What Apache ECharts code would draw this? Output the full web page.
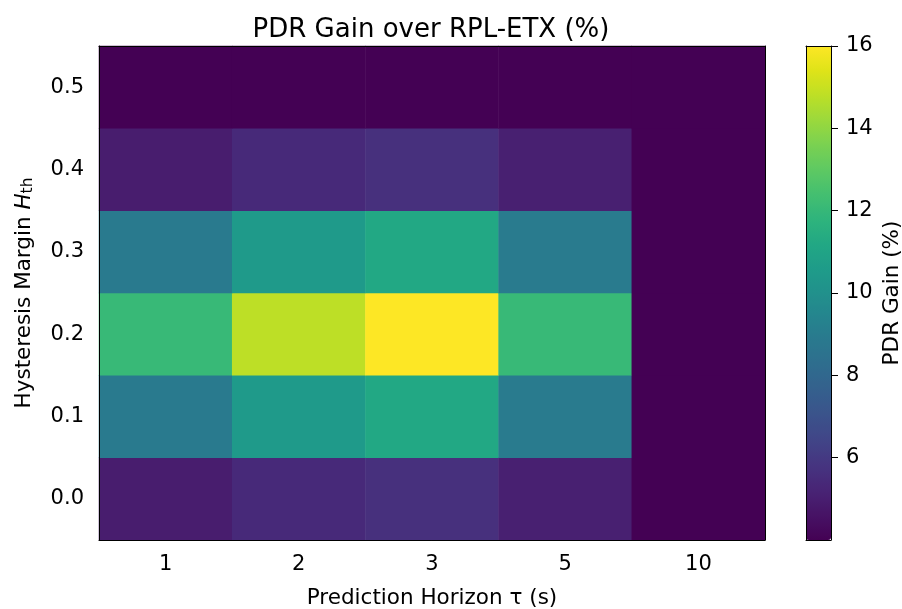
<!DOCTYPE html>
<html>
<head>
<meta charset="utf-8">
<script src="https://cdn.jsdelivr.net/npm/echarts@6/dist/echarts.min.js"></script>
<style>
html,body{margin:0;padding:0;background:#fff;}
#chart{width:902px;height:609px;}
</style>
</head>
<body>
<div id="chart"></div>
<script>
// ---- data ----
const horizons = ['1', '2', '3', '5', '10'];
const margins = ['0.0', '0.1', '0.2', '0.3', '0.4', '0.5'];
// PDR gain (%) rows by hysteresis margin (bottom to top), columns by horizon
const gain_H00 = [4.95, 5.4, 5.65, 5.05, 4.0];
const gain_H01 = [8.9, 10.5, 11.2, 8.95, 4.0];
const gain_H02 = [12.05, 14.8, 16.0, 12.05, 4.0];
const gain_H03 = [8.9, 10.5, 11.2, 8.95, 4.0];
const gain_H04 = [4.95, 5.4, 5.65, 5.05, 4.0];
const gain_H05 = [4.0, 4.0, 4.0, 4.0, 4.0];
const colorbarTicks = [6, 8, 10, 12, 14, 16];
const colorMin = 4.0, colorMax = 16.0;

const rows = [gain_H00, gain_H01, gain_H02, gain_H03, gain_H04, gain_H05];
const heatData = [];
rows.forEach((row, yi) => row.forEach((v, xi) => heatData.push([xi, yi, v])));

const viridis = ['#440154','#471365','#482475','#463480','#414487','#3b528b','#355f8d','#2f6c8e','#2a788e','#25848e','#21918c','#1e9c89','#22a884','#2fb47c','#44bf70','#5ec962','#7ad151','#9bd93c','#bddf26','#dfe318','#fde725'];

const FONT = 'DejaVu Sans';
const tickFs = 21;
const labelFs = 21.5;
const titleFs = 26;
const lineStyle = {color: '#000', width: 1};

const chart = echarts.init(document.getElementById('chart'));
chart.setOption({
  animation: false,
  backgroundColor: '#fff',
  textStyle: {fontFamily: FONT},
  title: {
    text: 'PDR Gain over RPL-ETX (%)',
    left: 426, top: 12, textAlign: 'center',
    textStyle: {fontFamily: FONT, fontSize: titleFs, fontWeight: 'normal', color: '#000'}
  },
  grid: [
    {left: 99, top: 46, width: 666, height: 494, containLabel: false, outerBoundsMode: 'none'},
    {left: 806, top: 46, width: 25, height: 494, containLabel: false, outerBoundsMode: 'none'}
  ],
  xAxis: [
    {type: 'category', gridIndex: 0, data: horizons, position: 'bottom', z: 10,
     axisLine: {lineStyle}, axisTick: {alignWithLabel: true, length: 7, lineStyle},
     axisLabel: {fontFamily: FONT, fontSize: tickFs, color: '#000', margin: 14},
     splitLine: {show: false},
     name: 'Prediction Horizon \u03C4 (s)', nameLocation: 'middle', nameGap: 47,
     nameTextStyle: {fontFamily: FONT, fontSize: labelFs, color: '#000'}},
    {type: 'category', gridIndex: 0, data: horizons, position: 'top', z: 10,
     axisLine: {lineStyle}, axisTick: {show: false}, axisLabel: {show: false}},
    {type: 'category', gridIndex: 1, data: ['c'], position: 'bottom', z: 10,
     axisLine: {lineStyle}, axisTick: {show: false}, axisLabel: {show: false}},
    {type: 'category', gridIndex: 1, data: ['c'], position: 'top', z: 10,
     axisLine: {lineStyle}, axisTick: {show: false}, axisLabel: {show: false}}
  ],
  yAxis: [
    {type: 'category', gridIndex: 0, data: margins, position: 'left', z: 10,
     axisLine: {lineStyle}, axisTick: {alignWithLabel: true, length: 7, lineStyle},
     axisLabel: {fontFamily: FONT, fontSize: tickFs, color: '#000', margin: 15, padding: [4, 0, 0, 0]},
     splitLine: {show: false},
     name: '{a|Hysteresis Margin }{i|H}{s|th}', nameLocation: 'middle', nameGap: 64, nameRotate: 90,
     nameTextStyle: {fontFamily: FONT, fontSize: labelFs, color: '#000',
       rich: {a: {fontFamily: FONT, fontSize: labelFs, color: '#000'},
              i: {fontFamily: FONT, fontSize: labelFs, fontStyle: 'italic', color: '#000'},
              s: {fontFamily: FONT, fontSize: labelFs * 0.72, color: '#000', verticalAlign: 'bottom', padding: [7, 0, 0, 0]}}}},
    {type: 'category', gridIndex: 0, data: margins, position: 'right', z: 10,
     axisLine: {lineStyle}, axisTick: {show: false}, axisLabel: {show: false}},
    {type: 'value', gridIndex: 1, min: colorMin, max: colorMax, position: 'left', z: 10,
     axisLine: {show: true, lineStyle}, axisTick: {show: false}, axisLabel: {show: false}, splitLine: {show: false}},
    {type: 'value', gridIndex: 1, min: colorMin, max: colorMax, position: 'right', z: 10,
     axisLine: {show: true, lineStyle},
     axisTick: {show: true, length: 7, lineStyle, customValues: colorbarTicks},
     axisLabel: {fontFamily: FONT, fontSize: tickFs, color: '#000', margin: 15, customValues: colorbarTicks},
     splitLine: {show: false},
     name: 'PDR Gain (%)', nameLocation: 'middle', nameGap: 50, nameRotate: 90,
     nameTextStyle: {fontFamily: FONT, fontSize: labelFs, color: '#000'}}
  ],
  visualMap: {
    type: 'continuous', seriesIndex: 0, min: colorMin, max: colorMax,
    calculable: false, realtime: false, hoverLink: false,
    left: 806, top: 46, itemWidth: 25, itemHeight: 494, padding: 0,
    text: null, showLabel: false,
    textStyle: {color: 'transparent'},
    inRange: {color: viridis}
  },
  series: [{
    type: 'heatmap', xAxisIndex: 0, yAxisIndex: 0, data: heatData,
    itemStyle: {borderWidth: 0},
    emphasis: {disabled: true},
    progressive: 0
  }]
});
</script>
</body>
</html>
